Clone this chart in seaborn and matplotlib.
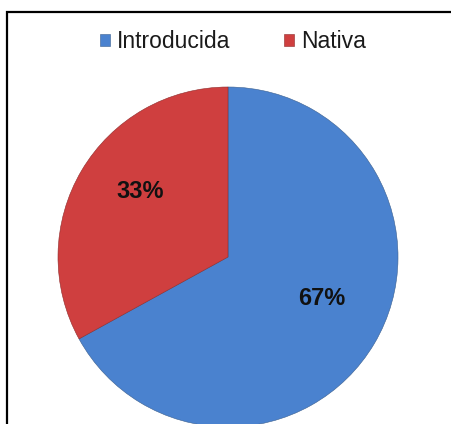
import matplotlib
matplotlib.use("Agg")
import matplotlib.pyplot as plt
import matplotlib.patches as mpatches
import matplotlib.transforms as mtransforms
from matplotlib import font_manager
import seaborn as sns

categories = ["Introducida", "Nativa"]
values = [67, 33]
colors = ["#4a82cf", "#cf3f3f"]

sns.set_theme(style="white")
avail = {f.name for f in font_manager.fontManager.ttflist}
fam = [f for f in ["Liberation Sans Narrow", "DejaVu Sans Condensed", "Liberation Sans", "DejaVu Sans"] if f in avail]
plt.rcParams["font.family"] = fam

W, H = 451, 424
fig = plt.figure(figsize=(W / 100, H / 100), dpi=100)
fig.patch.set_facecolor("white")

cx, cy, r = 228, 257, 170
ax = fig.add_axes([(cx - r) / W, (H - cy - r) / H, 2 * r / W, 2 * r / H])
wedges, texts, autotexts = ax.pie(
    values, colors=colors, startangle=90, counterclock=False,
    autopct="%d%%", pctdistance=0.62, radius=1,
    wedgeprops=dict(edgecolor="#3a5f8f", linewidth=0.4),
    textprops=dict(fontsize=17, fontweight="bold", color="#111111"),
)
wedges[1].set_edgecolor("#8f2a2a")
shift = mtransforms.ScaledTranslation(3 / 100, 12 / 100, fig.dpi_scale_trans)
for t in autotexts:
    t.set_transform(t.get_transform() + shift)
ax.set_xlim(-1, 1)
ax.set_ylim(-1, 1)
ax.set_aspect("equal")
ax.axis("off")

leg = fig.legend(wedges, categories, loc="center", bbox_to_anchor=(233 / W, 1 - 42 / H),
                 ncol=2, frameon=False, fontsize=16.5, handlelength=0.45, handleheight=0.45,
                 handletextpad=0.3, columnspacing=2.35, labelcolor="#1a1a1a")

border = mpatches.Rectangle((7 / W, -0.05), 1.1, (H - 12) / H + 0.05, transform=fig.transFigure,
                            fill=False, edgecolor="black", linewidth=1.6, clip_on=False)
fig.patches.append(border)

fig.savefig("out.png", dpi=100)
